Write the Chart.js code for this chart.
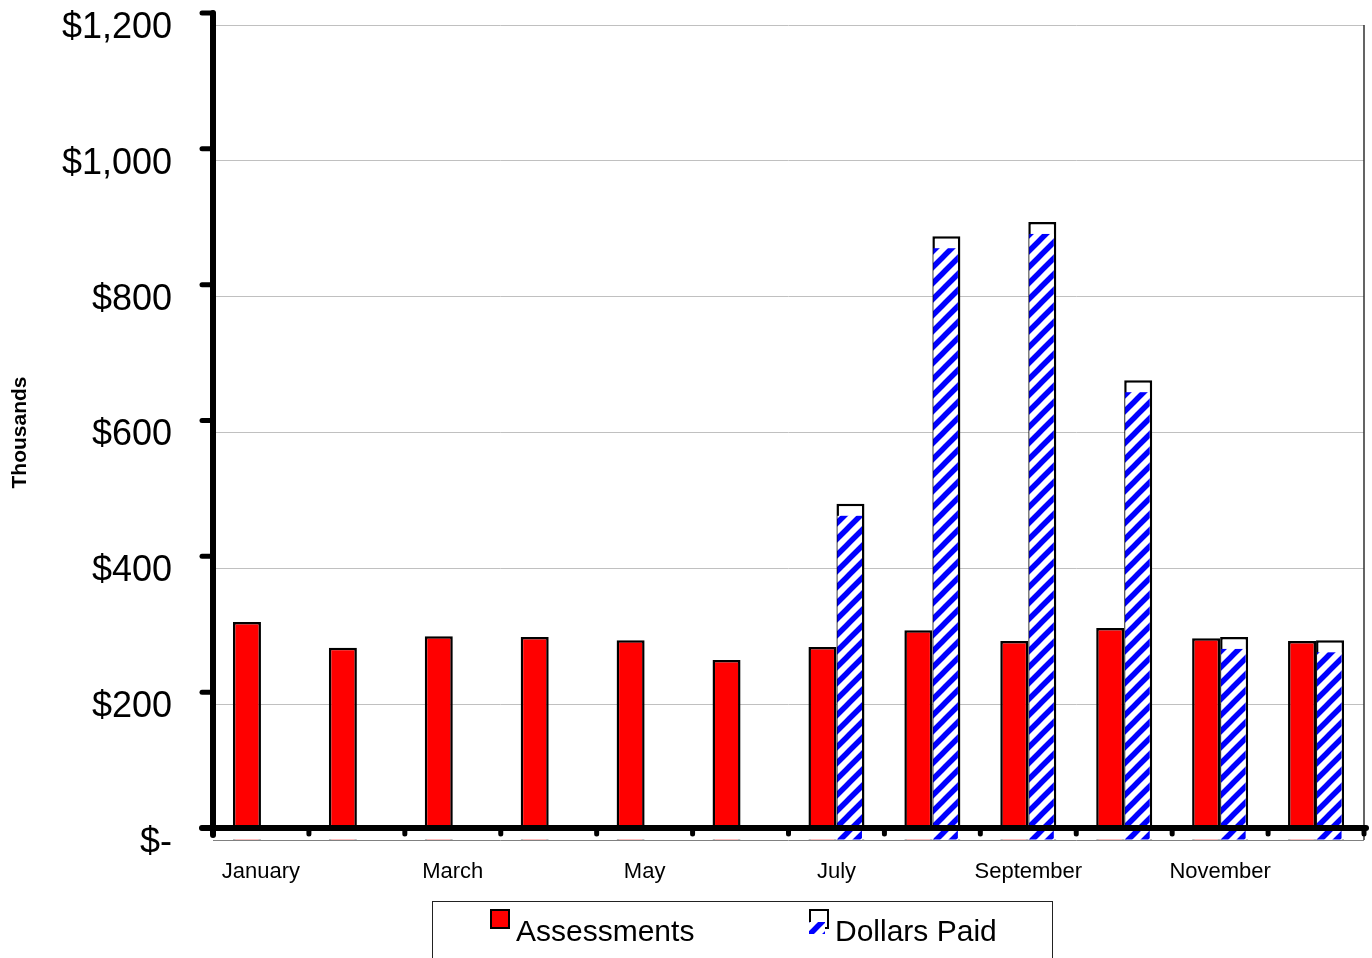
<!DOCTYPE html>
<html>
<head>
<meta charset="utf-8">
<script src="https://cdn.jsdelivr.net/npm/chart.js@4.4.1/dist/chart.umd.min.js"></script>
<style>
  html, body { margin: 0; padding: 0; background: #fff; }
  #wrap { width: 1372px; height: 958px; }
</style>
</head>
<body>
<div id="wrap"><canvas id="paidChart"></canvas></div>
<script>
// values in thousands of dollars
const months = ['January', 'February', 'March', 'April', 'May', 'June',
  'July', 'August', 'September', 'October', 'November', 'December'];
const xTickLabels = ['January', '', 'March', '', 'May', '', 'July', '', 'September', '', 'November', ''];
const assessments = [321, 283, 300, 299, 294, 265, 284, 309, 293, 312, 297, 293];
const dollarsPaid = [null, null, null, null, null, null, 495, 889, 910, 677, 299, 294];
const yMin = 0, yMax = 1200, yStep = 200;

const FONT = "'Liberation Sans', Arial, sans-serif";
const SHIFT = 12; // axis lines sit a little above the zero gridline, like the original

function makeHatch() {
  const c = document.createElement('canvas');
  c.width = c.height = 16;
  const g = c.getContext('2d');
  g.fillStyle = '#ffffff';
  g.fillRect(0, 0, 16, 16);
  g.strokeStyle = '#0000ff';
  g.lineWidth = 5.5;
  g.beginPath();
  g.moveTo(-4, 20); g.lineTo(20, -4);
  g.moveTo(-4, 4); g.lineTo(4, -4);
  g.moveTo(12, 20); g.lineTo(20, 12);
  g.stroke();
  return g.createPattern(c, 'repeat');
}

document.addEventListener("DOMContentLoaded", function () {
  const canvas = document.getElementById('paidChart');
  const hatch = makeHatch();

  // hatch fill of Dollars Paid, offset downwards and white strip under the axis
  const hatchPlugin = {
    id: 'hatchFill',
    afterDatasetsDraw(chart) {
      const ctx = chart.ctx;
      const area = chart.chartArea;
      ctx.save();
      ctx.fillStyle = '#ffffff';
      ctx.fillRect(area.left + 3, area.bottom - SHIFT + 3, area.right - area.left - 3, SHIFT - 4);
      const meta = chart.getDatasetMeta(1);
      ctx.fillStyle = hatch;
      meta.data.forEach(function (bar, i) {
        if (dollarsPaid[i] == null) return;
        const p = bar.getProps(['x', 'y', 'width', 'base'], true);
        const left = p.x - p.width / 2 + 1;
        const top = p.y + SHIFT;
        ctx.fillRect(left, top, p.width - 3.5, p.base - top);
      });
      ctx.restore();
    },
    afterDraw(chart) {
      const ctx = chart.ctx;
      const area = chart.chartArea;
      const y = chart.scales.y;
      const x = chart.scales.x;
      const zeroY = y.getPixelForValue(yMin) - SHIFT;
      const topY = y.getPixelForValue(yMax) - SHIFT;
      const axisX = area.left;
      ctx.save();
      // plot border on the right
      ctx.strokeStyle = '#303030';
      ctx.lineWidth = 1.5;
      ctx.beginPath();
      ctx.moveTo(area.right, area.top);
      ctx.lineTo(area.right, area.bottom);
      ctx.stroke();

      ctx.strokeStyle = '#000000';
      ctx.lineCap = 'round';
      // y axis + ticks
      ctx.lineWidth = 6;
      ctx.beginPath();
      ctx.moveTo(axisX, topY);
      ctx.lineTo(axisX, zeroY + 7);
      ctx.stroke();
      ctx.lineWidth = 5;
      y.ticks.forEach(function (t) {
        const ty = y.getPixelForValue(t.value) - SHIFT;
        ctx.beginPath();
        ctx.moveTo(axisX - 11, ty);
        ctx.lineTo(axisX, ty);
        ctx.stroke();
      });
      // x axis + ticks between categories
      ctx.lineWidth = 6;
      ctx.beginPath();
      ctx.moveTo(axisX - 11, zeroY);
      ctx.lineTo(area.right + 2, zeroY);
      ctx.stroke();
      const catW = (area.right - area.left) / months.length;
      ctx.lineWidth = 5;
      for (let i = 1; i <= months.length; i++) {
        const bx = x.getPixelForValue(i - 1) + catW / 2;
        ctx.beginPath();
        ctx.moveTo(bx, zeroY);
        ctx.lineTo(bx, zeroY + 6);
        ctx.stroke();
      }
      ctx.restore();

      // legend
      const sets = chart.data.datasets;
      ctx.save();
      ctx.strokeStyle = '#222222';
      ctx.lineWidth = 1;
      ctx.strokeRect(432.5, 901.5, 620, 80);
      ctx.font = '30px ' + FONT;
      ctx.textBaseline = 'alphabetic';
      // Assessments swatch
      ctx.fillStyle = sets[0].backgroundColor;
      ctx.fillRect(491, 910, 18, 18);
      ctx.lineWidth = 2;
      ctx.strokeStyle = '#000000';
      ctx.strokeRect(491, 910, 18, 18);
      ctx.fillStyle = '#000000';
      ctx.fillText(sets[0].label, 516, 941);
      // Dollars Paid swatch
      ctx.fillStyle = '#ffffff';
      ctx.fillRect(810, 910, 18, 18);
      ctx.strokeRect(810, 910, 18, 18);
      ctx.fillStyle = hatch;
      ctx.fillRect(809, 922, 16, 12);
      ctx.fillStyle = '#000000';
      ctx.fillText(sets[1].label, 835, 941);
      ctx.restore();
    }
  };

  new Chart(canvas, {
    type: 'bar',
    data: {
      labels: months,
      datasets: [
        {
          label: 'Assessments',
          data: assessments,
          backgroundColor: '#ff0000',
          borderColor: '#000000',
          borderWidth: 2.5
        },
        {
          label: 'Dollars Paid',
          data: dollarsPaid,
          backgroundColor: '#ffffff',
          borderColor: '#000000',
          borderWidth: 2.5
        }
      ]
    },
    options: {
      responsive: true,
      maintainAspectRatio: false,
      animation: false,
      categoryPercentage: 0.584,
      barPercentage: 1.0,
      layout: { padding: { left: 0, top: 25, right: 8, bottom: 68 } },
      plugins: {
        legend: { display: false },
        tooltip: { enabled: false }
      },
      scales: {
        x: {
          grid: { display: false, drawTicks: false },
          border: { display: false },
          ticks: {
            autoSkip: false,
            maxRotation: 0,
            padding: 19,
            color: '#000000',
            font: { family: FONT, size: 22 },
            callback: function (v, i) { return xTickLabels[i]; }
          },
          afterFit: function (s) { s.height = 50; s.paddingLeft = 0; s.paddingRight = 0; }
        },
        y: {
          min: yMin,
          max: yMax,
          grid: {
            drawTicks: false,
            lineWidth: 1,
            color: function (c) { return c.tick && c.tick.value === 0 ? '#808080' : '#c0c0c0'; }
          },
          border: { display: false },
          ticks: {
            stepSize: yStep,
            padding: 41,
            labelOffset: 3,
            color: '#000000',
            font: { family: FONT, size: 36 },
            callback: function (v) { return v === 0 ? '$-' : '$' + v.toLocaleString('en-US'); }
          },
          title: {
            display: true,
            text: 'Thousands',
            color: '#000000',
            font: { family: FONT, size: 21, weight: 'bold' },
            padding: { top: 8, bottom: 0 }
          },
          afterFit: function (s) { s.width = 213; s.paddingTop = 0; s.paddingBottom = 0; }
        }
      }
    },
    plugins: [hatchPlugin]
  });
});
</script>
</body>
</html>
